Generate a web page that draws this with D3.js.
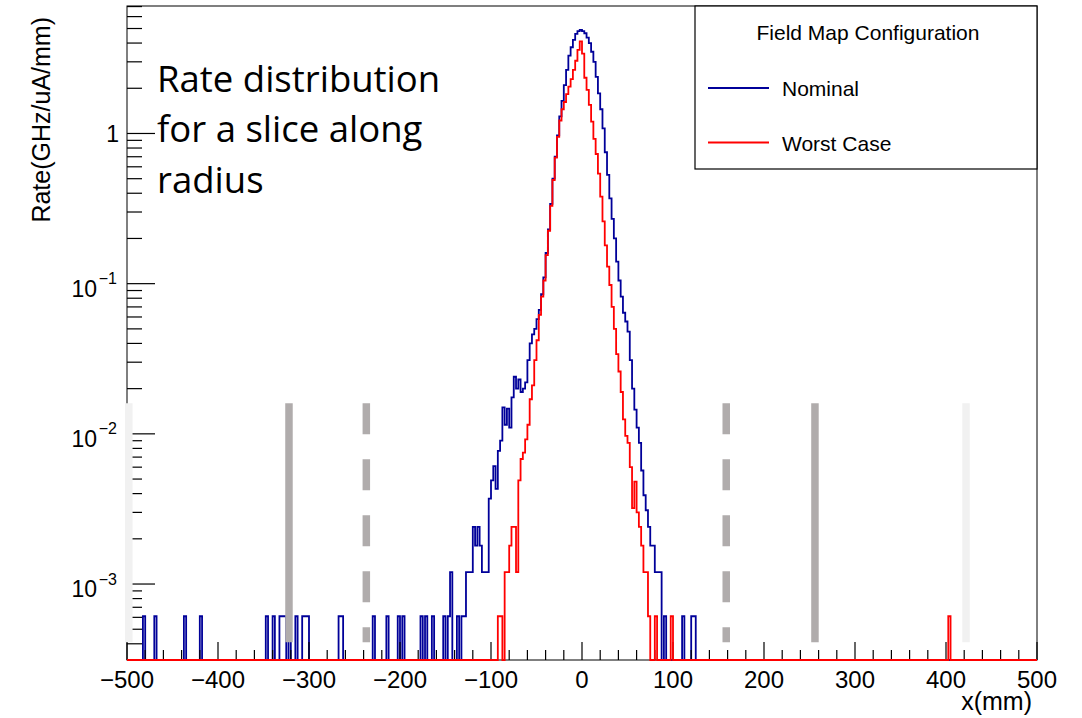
<!DOCTYPE html>
<html>
<head>
<meta charset="utf-8">
<script src="https://cdn.jsdelivr.net/npm/d3@7"></script>
<style>
  body { margin: 0; background: #fff; }
  svg { display: block; }
</style>
</head>
<body>
<div id="chart"></div>
<script>
// histogram binning (mm) and plotted ranges
var binWidth = 2.5;
var xRange = [-500, 500];
var yRange = [3.12e-4, 7.06];

// dense part of both histograms, one rate per bin, first bin starts at coreStart
var coreStart = -130;
var nominalCore = [
  0.00061, 0.0012, 0.0012, 0.0012, 0.0024, 0.0018, 0.0024, 0.0018, 0.0012, 0.0012,   // -130 .. -107.5
  0.0012, 0.0037, 0.0049, 0.0061, 0.0043, 0.0077, 0.009, 0.015, 0.0115, 0.0147,       // -105 .. -82.5
  0.011, 0.0175, 0.024, 0.02, 0.023, 0.019, 0.02, 0.022, 0.031, 0.04,                 // -80 .. -57.5
  0.046, 0.05, 0.058, 0.067, 0.085, 0.11, 0.16, 0.23, 0.34, 0.5,                      // -55 .. -32.5
  0.7, 0.97, 1.3, 1.65, 2.1, 2.65, 3.3, 3.75, 4.2, 4.6,                               // -30 .. -7.5
  4.8, 4.9, 4.8, 4.65, 4.35, 4.0, 3.5, 3.0, 2.38, 1.85,                               // -5 .. 17.5
  1.45, 1.08, 0.75, 0.53, 0.37, 0.27, 0.2, 0.14, 0.105, 0.082,                        // 20 .. 42.5
  0.064, 0.056, 0.048, 0.031, 0.02, 0.0145, 0.011, 0.0087, 0.0057, 0.0039,            // 45 .. 67.5
  0.0031, 0.0024, 0.0018, 0.0018, 0.0012, 0.0012, 0.0012, 0, 0.00061, 0,              // 70 .. 92.5
  0, 0, 0, 0, 0, 0, 0.00061, 0, 0, 0,                                                 // 95 .. 117.5
  0.00061, 0.00061, 0, 0                                                              // 120 .. 127.5
];
var worstCaseCore = [
  0, 0, 0, 0, 0, 0, 0, 0, 0, 0,                                                       // -130 .. -107.5
  0, 0, 0, 0, 0, 0.00061, 0.00061, 0, 0.0012, 0.0012,                                 // -105 .. -82.5
  0.0018, 0.0024, 0.0024, 0.0012, 0.0049, 0.0068, 0.0075, 0.0092, 0.0115, 0.017,      // -80 .. -57.5
  0.021, 0.031, 0.042, 0.062, 0.082, 0.105, 0.155, 0.225, 0.33, 0.49,                 // -55 .. -32.5
  0.69, 0.95, 1.22, 1.45, 1.62, 1.83, 2.05, 2.3, 2.65, 3.05,                          // -30 .. -7.5
  3.6, 4.1, 3.4, 2.35, 1.95, 1.55, 1.2, 0.92, 0.73, 0.54,                             // -5 .. 17.5
  0.38, 0.26, 0.18, 0.13, 0.098, 0.07, 0.05, 0.034, 0.026, 0.019,                     // 20 .. 42.5
  0.0125, 0.0097, 0.0087, 0.006, 0.0032, 0.0048, 0.003, 0.0024, 0.0018, 0.0012,       // 45 .. 67.5
  0.0012, 0.00061, 0, 0, 0.00061, 0, 0, 0, 0, 0,                                      // 70 .. 92.5
  0, 0.00061, 0, 0, 0, 0, 0, 0, 0, 0,                                                 // 95 .. 117.5
  0, 0, 0, 0                                                                          // 120 .. 127.5
];

// lone filled bins outside the core (bin low edge in mm, rate)
var nominalTailX = [-482.5, -470, -437.5, -420, -347.5, -340, -332.5, -330, -327.5, -322.5,
  -315, -307.5, -305, -302.5, -267.5, -265, -230, -215, -202.5, -197.5,
  -177.5, -172.5, -165, -152.5, -147.5, -145, -137.5, -132.5];
var nominalTailY = [0.00061, 0.00061, 0.00061, 0.00061, 0.00061, 0.00061, 0.00061, 0.00061, 0.00061, 0.00061,
  0.00061, 0.00061, 0.00061, 0.00061, 0.00061, 0.00061, 0.00061, 0.00061, 0.00061, 0.00061,
  0.00061, 0.00061, 0.00061, 0.00061, 0.00061, 0.0012, 0.00061, 0.00061];
var worstCaseTailX = [402.5];
var worstCaseTailY = [0.00061];

// grey boundary bands pasted over the plot
var bandX = [-498, -322, -237, 158.5, 256, 422];
var bandKind = ['light', 'solid', 'dashed', 'dashed', 'solid', 'light'];
var bandRange = [4.1e-4, 0.016];

var xTicks = [-500, -400, -300, -200, -100, 0, 100, 200, 300, 400, 500];
var xTickLabels = ['\u2212500', '\u2212400', '\u2212300', '\u2212200', '\u2212100', '0', '100', '200', '300', '400', '500'];
var yTicks = [1, 0.1, 0.01, 0.001];
var yTickBase = ['1', '10', '10', '10'];
var yTickExp = ['', '\u22121', '\u22122', '\u22123'];

var seriesNames = ['Nominal', 'Worst Case'];
var seriesColors = ['#000099', '#ff0000'];

var W = 1082, H = 718;
var plot = {left: 127, right: 1037, top: 6, bottom: 660};
var axisFont = 'Liberation Sans, Arial, Helvetica, sans-serif';

var svg = d3.select('#chart').append('svg')
    .attr('width', W)
    .attr('height', H);

var x = d3.scaleLinear().domain(xRange).range([plot.left, plot.right]);
var y = d3.scaleLog().domain(yRange).range([plot.bottom, plot.top]);

function fillBins(core, tailX, tailY) {
    var n = Math.round((xRange[1] - xRange[0]) / binWidth);
    var v = [];
    for (var i = 0; i < n; i++) v.push(0);
    var off = Math.round((coreStart - xRange[0]) / binWidth);
    core.forEach(function(d, i) { v[off + i] = d; });
    tailX.forEach(function(e, i) { v[Math.round((e - xRange[0]) / binWidth)] = tailY[i]; });
    return v;
}

// step outline, empty bins sit on the lower frame edge like ROOT does on log axes
function stepPath(values) {
    var pts = [];
    values.forEach(function(d, i) {
        var lo = xRange[0] + i * binWidth;
        pts.push([lo, d], [lo + binWidth, d]);
    });
    return d3.line()
        .x(function(d) { return x(d[0]); })
        .y(function(d) { return y(Math.max(d[1], yRange[0])); })(pts);
}

var nominal = fillBins(nominalCore, nominalTailX, nominalTailY);
var worstCase = fillBins(worstCaseCore, worstCaseTailX, worstCaseTailY);

// frame
svg.append('rect')
    .attr('x', plot.left).attr('y', plot.top)
    .attr('width', plot.right - plot.left).attr('height', plot.bottom - plot.top)
    .attr('fill', 'none').attr('stroke', '#000').attr('stroke-width', 1);

// nominal first, then the axes, then worst case on top
svg.append('path')
    .attr('d', stepPath(nominal))
    .attr('fill', 'none')
    .attr('stroke', seriesColors[0])
    .attr('stroke-width', 1.8);

var axes = svg.append('g').attr('stroke', '#000').attr('stroke-width', 1.2);

d3.range(xRange[0], xRange[1] + 1, 20).forEach(function(t) {
    var major = xTicks.indexOf(t) >= 0;
    axes.append('line')
        .attr('x1', x(t)).attr('x2', x(t))
        .attr('y1', plot.bottom).attr('y2', plot.bottom - (major ? 18 : 10));
});

[1e-4, 1e-3, 1e-2, 1e-1, 1].forEach(function(dec) {
    for (var k = 1; k < 10; k++) {
        var v = dec * k;
        if (v < yRange[0] || v > yRange[1]) continue;
        axes.append('line')
            .attr('x1', plot.left).attr('x2', plot.left + (k === 1 ? 28 : 15))
            .attr('y1', y(v)).attr('y2', y(v));
    }
});

svg.append('path')
    .attr('d', stepPath(worstCase))
    .attr('fill', 'none')
    .attr('stroke', seriesColors[1])
    .attr('stroke-width', 1.8);

// tick labels
svg.append('g').selectAll('text')
    .data(xTicks)
    .enter().append('text')
    .attr('x', function(d) { return x(d); })
    .attr('y', 688)
    .attr('text-anchor', 'middle')
    .style('font-family', axisFont)
    .style('font-size', '24px')
    .text(function(d, i) { return xTickLabels[i]; });

var yLab = svg.append('g')
    .style('font-family', axisFont);
yTicks.forEach(function(t, i) {
    if (yTickExp[i] === '') {
        yLab.append('text')
            .attr('x', 119).attr('y', y(t) + 9)
            .attr('text-anchor', 'end')
            .style('font-size', '23px')
            .text(yTickBase[i]);
    } else {
        yLab.append('text')
            .attr('x', 97).attr('y', y(t) + 13)
            .attr('text-anchor', 'end')
            .style('font-size', '23px')
            .text(yTickBase[i]);
        yLab.append('text')
            .attr('x', 117).attr('y', y(t) + 0.5)
            .attr('text-anchor', 'end')
            .style('font-size', '16px')
            .text(yTickExp[i]);
    }
});

// axis titles
svg.append('text')
    .attr('x', 1032).attr('y', 710)
    .attr('text-anchor', 'end')
    .style('font-family', axisFont)
    .style('font-size', '25px')
    .text('x(mm)');

svg.append('text')
    .attr('transform', 'translate(50,17) rotate(-90)')
    .attr('text-anchor', 'end')
    .style('font-family', axisFont)
    .style('font-size', '25px')
    .text('Rate(GHz/uA/mm)');

// legend
var legend = svg.append('g').style('font-family', axisFont);
legend.append('rect')
    .attr('x', 695).attr('y', 6)
    .attr('width', 342).attr('height', 163)
    .attr('fill', '#fff').attr('stroke', '#000').attr('stroke-width', 1.2);
legend.append('text')
    .attr('x', 868).attr('y', 40)
    .attr('text-anchor', 'middle')
    .style('font-size', '21px')
    .text('Field Map Configuration');
seriesNames.forEach(function(name, i) {
    var ly = 88 + i * 54.5;
    legend.append('line')
        .attr('x1', 708).attr('x2', 769)
        .attr('y1', ly).attr('y2', ly)
        .attr('stroke', seriesColors[i])
        .attr('stroke-width', 1.8);
    legend.append('text')
        .attr('x', 782).attr('y', ly + 8)
        .style('font-size', '21px')
        .text(name);
});

// grey bands on top of everything
var bands = svg.append('g');
bandX.forEach(function(b, i) {
    var l = bands.append('line')
        .attr('x1', x(b)).attr('x2', x(b))
        .attr('y1', y(bandRange[1])).attr('y2', y(bandRange[0]))
        .attr('stroke-width', 7.5)
        .attr('stroke', bandKind[i] === 'light' ? '#f1f1f1' : '#b0acac');
    if (bandKind[i] === 'dashed') l.attr('stroke-dasharray', '31,25');
});

// slide annotation
var note = svg.append('text')
    .style('font-family', 'Open Sans, sans-serif')
    .style('font-size', '36.5px')
    .attr('fill', '#000');
['Rate distribution', 'for a slice along', 'radius'].forEach(function(s, i) {
    note.append('tspan')
        .attr('x', 157)
        .attr('y', 91.5 + i * 50.8)
        .text(s);
});
</script>
</body>
</html>
